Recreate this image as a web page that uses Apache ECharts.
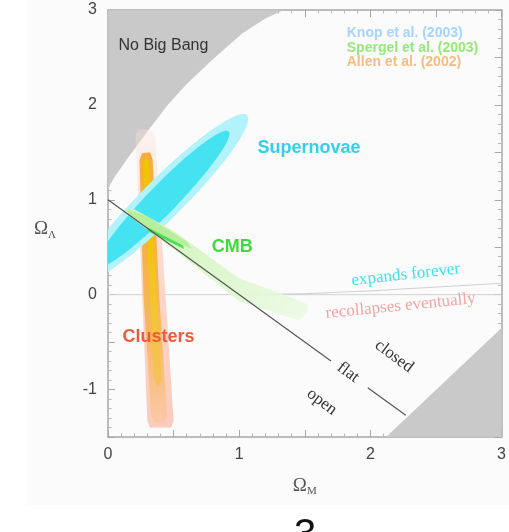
<!DOCTYPE html>
<html><head><meta charset="utf-8">
<script src="https://cdn.jsdelivr.net/npm/echarts@6/dist/echarts.min.js"></script>
<style>html,body{margin:0;padding:0;background:#fff}#c{width:509px;height:532px}</style>
</head><body><div id="c"></div>
<script>
// ---- data (Ω_M, Ω_Λ) ----
const xTickLabels = [0, 1, 2, 3];
const yTickLabels = [-1, 0, 1, 2, 3];
const noBigBang = [[0,1.1],[0.02,1.17],[0.05,1.24],[0.09,1.32],[0.13,1.4],[0.2,1.53],[0.3,1.72],[0.45,1.99],[0.6,2.22],[0.8,2.48],[1.02,2.75],[1.2,2.91],[1.34,3.0],[0,3.0]];
const recollapseCorner = [[2.12,-1.5],[3,-0.35],[3,-1.5]];
const flatLineA = [[0,1],[1.7,-0.7]];
const flatLineB = [[1.98,-0.98],[2.27,-1.27]];
const zeroLine = [[0,0],[3,0]];
const expandBoundary = [[1,0],[1.5,0.01],[2,0.04],[2.5,0.08],[3,0.12]];
const clusterOuter = [[0.21,1.68],[0.23,1.74],[0.33,1.74],[0.36,1.68],[0.50,-1.33],[0.48,-1.40],[0.32,-1.40],[0.30,-1.33]];
const clusterMid = [[0.24,1.42],[0.26,1.49],[0.32,1.50],[0.34,1.43],[0.39,0],[0.45,-1.28],[0.42,-1.35],[0.36,-1.35],[0.33,-1.28],[0.27,0]];
const clusterCore = [[0.27,1.40],[0.29,1.45],[0.31,1.40],[0.37,0],[0.41,-0.9],[0.38,-0.97],[0.35,-0.9],[0.32,0]];
const snCenter = [0.42, 1.01];
const snTips = [[1.06, 1.89], [0.92, 1.72]];   // outer, inner
const snMinor = [0.155, 0.11];                 // semi-minor, in Ω_M units
const cmbOuter = [[0.13,0.90],[0.2,0.90],[0.5,0.67],[1.0,0.17],[1.4,-0.03],[1.52,-0.10],[1.52,-0.20],[1.45,-0.27],[1.0,-0.07],[0.5,0.48],[0.2,0.79],[0.13,0.86]];
const cmbMid = [[0.15,0.90],[0.3,0.82],[0.6,0.56],[0.64,0.48],[0.3,0.70],[0.15,0.85]];
const cmbCore = [[0.30,0.71],[0.57,0.52],[0.58,0.48],[0.30,0.67]];
const labelTexts = ['No Big Bang','Supernovae','CMB','Clusters','Knop et al. (2003)','Spergel et al. (2003)','Allen et al. (2002)','expands forever','recollapses eventually','closed','flat','open'];
const labelX = [0.08, 1.14, 0.79, 0.11, 1.82, 1.82, 1.82, 2.27, 2.23, 2.18, 1.83, 1.63];
const labelY = [2.63, 1.55, 0.50, -0.45, 2.76, 2.60, 2.45, 0.21, -0.12, -0.65, -0.82, -1.13];

// ---- styles ----
const sans = 'Liberation Sans, Arial, sans-serif';
const serif = 'Liberation Serif, Times New Roman, serif';
const labelStyles = [
  {font:'16px '+sans, fill:'#333', align:'left', rot:0},
  {font:'bold 18px '+sans, fill:'#33d0ee', align:'left', rot:0},
  {font:'bold 18px '+sans, fill:'#3ddc3d', align:'left', rot:0},
  {font:'bold 18px '+sans, fill:'#f05a3a', align:'left', rot:0},
  {font:'bold 14px '+sans, fill:'#a6d4ff', align:'left', rot:0},
  {font:'bold 14px '+sans, fill:'#94ea78', align:'left', rot:0},
  {font:'bold 14px '+sans, fill:'#f8bc80', align:'left', rot:0},
  {font:'17px '+serif, fill:'#3ee0f0', align:'center', rot:0.11},
  {font:'17px '+serif, fill:'#f4a4a4', align:'center', rot:0.10},
  {font:'17px '+serif, fill:'#333', align:'center', rot:-0.64},
  {font:'17px '+serif, fill:'#333', align:'center', rot:-0.64},
  {font:'17px '+serif, fill:'#333', align:'center', rot:-0.64}
];
const LG = (x0,y0,x1,y1,stops) => new echarts.graphic.LinearGradient(x0,y0,x1,y1,stops.map((c,i)=>({offset:i/(stops.length-1), color:c})));

function polySeries(points, fill, z) {
  return {
    type:'custom', coordinateSystem:'cartesian2d', silent:true, z:z, clip:true,
    data:[points[0]],
    renderItem:(params, api) => ({
      type:'polygon', shape:{points: points.map(p => api.coord(p))}, style:{fill: fill}
    })
  };
}
function ellipseSeries(idx, fill, z) {
  return {
    type:'custom', coordinateSystem:'cartesian2d', silent:true, z:z, clip:true,
    data:[snCenter],
    renderItem:(params, api) => {
      const c = api.coord(snCenter), t = api.coord(snTips[idx]);
      const a = Math.hypot(t[0]-c[0], t[1]-c[1]);
      const ang = Math.atan2(t[1]-c[1], t[0]-c[0]);
      const b = api.size([snMinor[idx], 0])[0];
      const cs = params.coordSys;
      return {
        type:'group',
        clipPath:{type:'rect', shape:{x:cs.x, y:cs.y, width:cs.width, height:cs.height}},
        children:[{type:'ellipse', x:c[0], y:c[1], rotation:-ang,
          shape:{cx:0, cy:0, rx:a, ry:b}, style:{fill:fill}}]
      };
    }
  };
}
function lineSeries(data, color, width, z) {
  return {type:'line', data:data, showSymbol:false, symbol:'none', silent:true, z:z,
    lineStyle:{color:color, width:width}, xAxisIndex:0, yAxisIndex:0};
}

const chart = echarts.init(document.getElementById('c'));
const axisCommon = {
  type:'value', splitLine:{show:false},
  axisLine:{show:true, onZero:false, lineStyle:{color:'#a8a8a8', width:1.5}},
  axisTick:{show:true, inside:true, length:7, lineStyle:{color:'#a8a8a8'}},
  minorTick:{show:true, splitNumber:5, length:3.5, lineStyle:{color:'#b8b8b8'}},
  interval:0.5
};
const labelFmt = v => (Math.abs(v - Math.round(v)) < 1e-9 ? String(Math.round(v)) : '');
const nameRich = {
  o:{fontFamily:serif, fontSize:19, color:'#555', lineHeight:22},
  s:{fontFamily:serif, fontSize:11, color:'#555', lineHeight:11, verticalAlign:'bottom'}
};

chart.setOption({
  animation:false,
  backgroundColor:'#ffffff',
  grid:{left:108, right:6, top:10, bottom:95},
  graphic:[
    {type:'rect', z:-10, shape:{x:27, y:0, width:482, height:505}, style:{fill:'#fbfbfb'}},
    {type:'text', z:10, x:305, y:516, style:{text:'3', font:'40px '+sans, fill:'#111', align:'center', verticalAlign:'top'}}
  ],
  xAxis:[
    Object.assign({}, axisCommon, {min:0, max:3, position:'bottom',
      axisLabel:{formatter:labelFmt, fontSize:16, color:'#444', margin:10, fontFamily:sans},
      name:'{o|Ω}{s|M}', nameLocation:'middle', nameGap:38, nameTextStyle:{rich:nameRich}}),
    Object.assign({}, axisCommon, {min:0, max:3, position:'top', axisLabel:{show:false}})
  ],
  yAxis:[
    Object.assign({}, axisCommon, {min:-1.5, max:3, position:'left',
      axisLabel:{formatter:labelFmt, fontSize:16, color:'#444', margin:11, fontFamily:sans},
      name:'{o|Ω}{s|Λ}', nameLocation:'middle', nameRotate:0, nameGap:52, nameTextStyle:{rich:nameRich, padding:[12,0,0,0]}}),
    Object.assign({}, axisCommon, {min:-1.5, max:3, position:'right', axisLabel:{show:false}})
  ],
  series:[
    polySeries(noBigBang, '#c9c9c9', 1),
    polySeries(recollapseCorner, '#c9c9c9', 1),
    lineSeries(zeroLine, '#d0d0d0', 1, 2),
    lineSeries(expandBoundary, '#d0d0d0', 1, 2),
    polySeries(clusterOuter, LG(0,0,0,1,['rgba(252,226,218,0.35)','rgba(252,214,200,0.8)','#fcd2c4','#fbcbbd']), 3),
    polySeries(clusterMid, LG(0,0,0,1,['#f5ae3c','#f6b048','#f7b860','#fbc8a8']), 4),
    polySeries(clusterCore, LG(0,0,0,1,['#f1c400','#f2c400','#f4c630','#f6c060']), 5),
    ellipseSeries(0, '#b2f2fa', 6),
    ellipseSeries(1, '#45e3f2', 7),
    polySeries(cmbOuter, LG(0,0,1,1,['#d0f4bc','#d8f6c6','#e2f8d6','rgba(232,250,222,0.7)']), 8),
    polySeries(cmbMid, '#b6ee9c', 9),
    polySeries(cmbCore, '#4ede58', 10),
    lineSeries(flatLineA, '#555', 1.2, 11),
    lineSeries(flatLineB, '#555', 1.2, 11),
    {
      type:'custom', coordinateSystem:'cartesian2d', silent:true, z:12,
      data: labelTexts.map((t,i) => [labelX[i], labelY[i], i]),
      renderItem:(params, api) => {
        const i = api.value(2);
        const p = api.coord([api.value(0), api.value(1)]);
        const s = labelStyles[i];
        return {type:'text', x:p[0], y:p[1], rotation:s.rot,
          style:{text:labelTexts[i], font:s.font, fill:s.fill, align:s.align, verticalAlign:'middle',
                 textAlign:s.align, textVerticalAlign:'middle'}};
      }
    }
  ]
});
</script></body></html>
